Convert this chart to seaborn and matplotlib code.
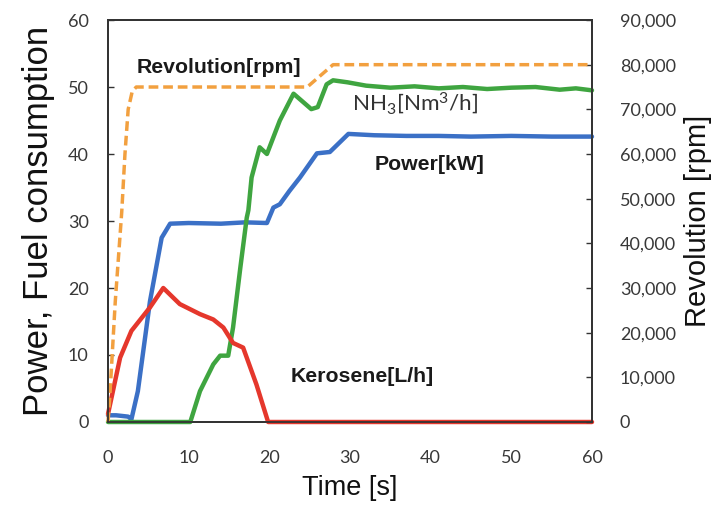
import pandas as pd
import numpy as np
import matplotlib
matplotlib.use('Agg')
import matplotlib.pyplot as plt
import seaborn as sns
from matplotlib.ticker import FuncFormatter

# time [s] and values
rev_t = [0, 0.2, 0.9, 1.7, 2.1, 2.5, 3.0, 3.5, 24.7, 26.3, 27.9, 60]
rev_rpm = [0, 5000, 27000, 47000, 60000, 70000, 74000, 75000, 75000, 77500, 80000, 80000]

power_t = [0, 1.0, 2.5, 2.9, 3.7, 5.2, 6.65, 7.7, 10, 14, 17, 19.7, 20.5, 21.3, 22.5, 23.8, 25.9, 27.5, 29.8,
           33, 37, 41, 45, 50, 55, 60]
power_kw = [1.0, 1.0, 0.8, 0.4, 4.6, 18.0, 27.5, 29.6, 29.7, 29.6, 29.8, 29.7, 32.0, 32.5, 34.5, 36.5, 40.1, 40.3, 43.0,
            42.8, 42.7, 42.7, 42.6, 42.7, 42.6, 42.6]

nh3_t = [0, 10.2, 11.4, 13.05, 13.9, 14.9, 15.5, 16.4, 17.2, 17.4, 17.8, 18.8, 19.7, 21.3, 23.0, 25.2, 26.0, 27.1,
         27.9, 29.7, 32, 35, 38, 41, 44, 47, 50, 53, 56, 58, 60]
nh3_flow = [0, 0, 4.6, 8.6, 9.9, 9.9, 14.1, 23.0, 30.5, 31.6, 36.5, 41.0, 40.0, 45.0, 49.0, 46.7, 47.0, 50.4,
            51.0, 50.7, 50.2, 49.9, 50.1, 49.8, 50.0, 49.7, 49.9, 50.0, 49.6, 49.8, 49.5]

kero_t = [0, 1.5, 2.9, 5.2, 6.85, 8.9, 11.4, 13.05, 14.3, 15.5, 16.75, 18.4, 19.85, 60]
kero_lh = [1.2, 9.6, 13.6, 17.1, 20.0, 17.6, 16.1, 15.3, 14.1, 11.8, 11.1, 5.6, 0, 0]

left_ticks = [0, 10, 20, 30, 40, 50, 60]
right_ticks = [0, 10000, 20000, 30000, 40000, 50000, 60000, 70000, 80000, 90000]
x_ticks = [0, 10, 20, 30, 40, 50, 60]

BLUE = '#3B70C6'
GREEN = '#3FA540'
RED = '#E5372C'
ORANGE = '#F2A03F'
TICK_GRAY = '#383838'


def main():
    sns.set_theme(style='white')
    plt.rcParams['font.family'] = ['Liberation Sans', 'DejaVu Sans']
    plt.rcParams['mathtext.default'] = 'regular'

    fig = plt.figure(figsize=(7.23, 5.08), dpi=100)
    ax = fig.add_axes([0.1494, 0.1693, 0.6694, 0.7913])
    ax2 = ax.twinx()

    df_p = pd.DataFrame({'t': power_t, 'v': power_kw})
    df_n = pd.DataFrame({'t': nh3_t, 'v': nh3_flow})
    df_k = pd.DataFrame({'t': kero_t, 'v': kero_lh})
    df_r = pd.DataFrame({'t': rev_t, 'v': rev_rpm})

    sns.lineplot(data=df_r, x='t', y='v', ax=ax2, color=ORANGE, lw=2.5, sort=False, estimator=None,
                 linestyle=(0, (2.8, 1.4)), clip_on=False)
    sns.lineplot(data=df_k, x='t', y='v', ax=ax, color=RED, lw=3.2, sort=False, estimator=None, clip_on=False, zorder=4)
    sns.lineplot(data=df_p, x='t', y='v', ax=ax, color=BLUE, lw=3.2, sort=False, estimator=None, clip_on=False, zorder=3)
    sns.lineplot(data=df_n, x='t', y='v', ax=ax, color=GREEN, lw=3.2, sort=False, estimator=None, clip_on=False, zorder=3)

    ax.set_xlim(0, 60)
    ax.set_ylim(0, 60)
    ax2.set_ylim(0, 90000)
    ax.set_xticks(x_ticks)
    ax.set_yticks(left_ticks)
    ax2.set_yticks(right_ticks)
    ax2.yaxis.set_major_formatter(FuncFormatter(lambda v, p: f'{int(v):,}'))

    for a in (ax, ax2):
        for s in a.spines.values():
            s.set_color('#333333')
            s.set_linewidth(1.3)
    ax.tick_params(axis='both', direction='in', length=4, width=1, color='#333333',
                   labelsize=13, labelcolor=TICK_GRAY)
    ax.tick_params(axis='y', pad=14)
    ax.tick_params(axis='x', pad=20)
    ax2.tick_params(axis='y', direction='in', length=4, width=1, color='#333333',
                    labelsize=13, labelcolor=TICK_GRAY, pad=20)
    for lab in ax.get_xticklabels() + ax.get_yticklabels() + ax2.get_yticklabels():
        lab.set_family(['Lato', 'DejaVu Sans'])

    ax.set_xlabel('Time [s]', fontsize=19.5, color='#111111', labelpad=7)
    ax.set_ylabel('Power, Fuel consumption', fontsize=25, color='#111111', labelpad=9)
    ax2.set_ylabel('Revolution [rpm]', fontsize=21, color='#111111', labelpad=6)

    ax.text(3.6, 52.9, 'Revolution[rpm]', fontsize=15.3, fontweight='bold', color='#1a1a1a', va='center')
    ax.text(30.2, 47.6, 'NH$_3$[Nm$^3$/h]', fontsize=16.2, color='#333333', va='center',
            family=['Lato', 'DejaVu Sans'])
    ax.text(33.1, 38.4, 'Power[kW]', fontsize=15.3, fontweight='bold', color='#1a1a1a', va='center')
    ax.text(22.7, 6.8, 'Kerosene[L/h]', fontsize=15.3, fontweight='bold', color='#1a1a1a', va='center')

    fig.savefig('out.png', dpi=100)
    plt.close(fig)


if __name__ == '__main__':
    main()
